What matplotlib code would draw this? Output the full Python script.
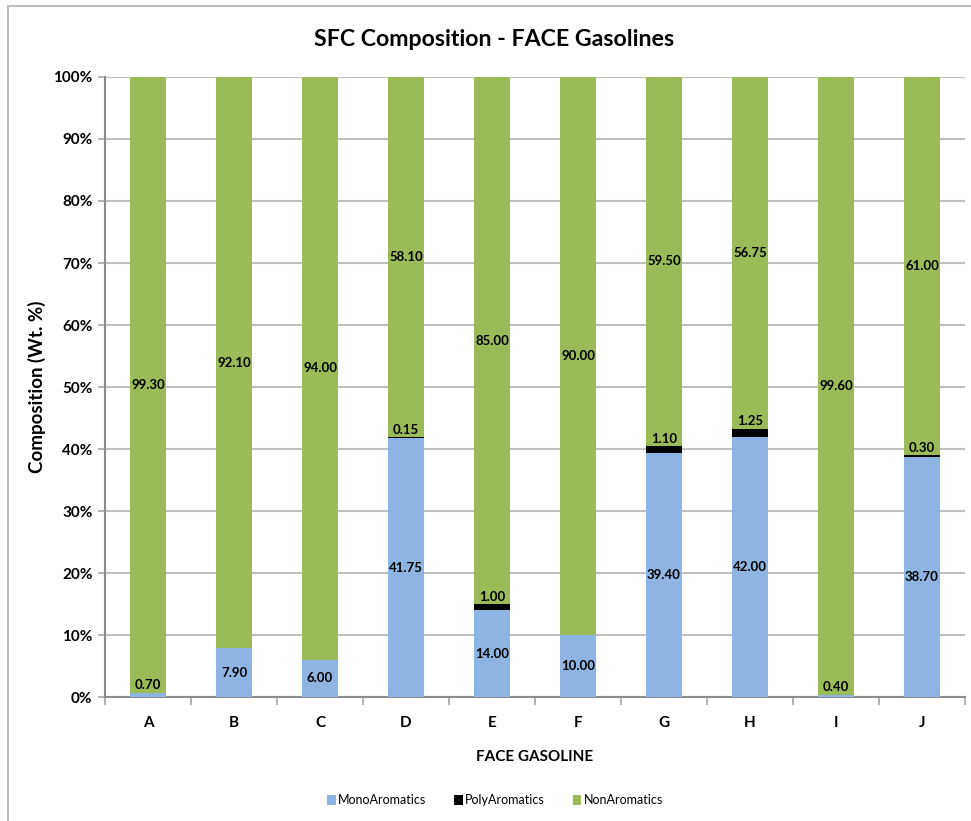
import numpy as np
import matplotlib.pyplot as plt
from matplotlib.patches import Rectangle, Patch
from matplotlib.ticker import FuncFormatter, FixedLocator

plt.rcParams['font.family'] = ['Lato', 'DejaVu Sans']

# SFC composition of the FACE gasolines (wt. %)
gasolines = ["A", "B", "C", "D", "E", "F", "G", "H", "I", "J"]
mono_arom = [0.70, 7.90, 6.00, 41.75, 14.00, 10.00, 39.40, 42.00, 0.40, 38.70]
poly_arom = [0.00, 0.00, 0.00, 0.15, 1.00, 0.00, 1.10, 1.25, 0.00, 0.30]
non_arom = [99.30, 92.10, 94.00, 58.10, 85.00, 90.00, 59.50, 56.75, 99.60, 61.00]

series = [
    ("MonoAromatics", mono_arom, "#8EB4E3"),
    ("PolyAromatics", poly_arom, "#000000"),
    ("NonAromatics", non_arom, "#9BBB59"),
]

fig = plt.figure(figsize=(9.71, 8.21), dpi=100)
ax = fig.add_axes([105 / 971, 1 - 697 / 821, 860 / 971, 620 / 821])

# chart border
fig.patches.append(Rectangle((8 / 971, -0.01), 1.0, 1 - 6 / 821 + 0.01,
                             transform=fig.transFigure, fill=False,
                             edgecolor="#BFBFBF", linewidth=1.5))

x = np.arange(len(gasolines))
bottom = np.zeros(len(gasolines))
for name, vals, color in series:
    vals = np.array(vals)
    ax.bar(x, vals, width=0.42, bottom=bottom, color=color, label=name,
           zorder=3)
    for xi, b, v in zip(x, bottom, vals):
        if v <= 0:
            continue
        if v < 2:
            # thin segments get their label just above them
            ax.annotate(f"{v:.2f}", (xi, b + v), xytext=(0, 1),
                        textcoords="offset points", ha="center", va="bottom",
                        fontsize=9.5, fontweight="bold", zorder=4)
        else:
            ax.text(xi, b + v / 2, f"{v:.2f}", ha="center", va="center",
                    fontsize=9.5, fontweight="bold", zorder=4)
    bottom += vals

ax.set_xlim(-0.5, len(gasolines) - 0.5)
ax.set_ylim(0, 100)
ax.set_yticks(np.arange(0, 101, 10))
ax.yaxis.set_major_formatter(FuncFormatter(lambda v, p: f"{v:.0f}%"))
ax.set_xticks(x)
ax.set_xticklabels(gasolines)
ax.xaxis.set_minor_locator(FixedLocator(np.arange(-0.5, len(gasolines), 1.0)))
ax.tick_params(axis="x", which="major", length=0, pad=14)
ax.tick_params(axis="x", which="minor", length=6, width=1.2, color="#A6A6A6")
ax.tick_params(axis="y", length=5, width=1.2, color="#A6A6A6", pad=4)
for lab in ax.get_xticklabels() + ax.get_yticklabels():
    lab.set_fontweight("bold")
    lab.set_fontsize(11)

ax.grid(axis="y", color="#BFBFBF", linewidth=1.5, zorder=0)
for side in ["top", "right"]:
    ax.spines[side].set_visible(False)
for side in ["left", "bottom"]:
    ax.spines[side].set_color("#8C8C8C")
    ax.spines[side].set_linewidth(1.5)

fig.text(494 / 971, 1 - 40 / 821, "SFC Composition - FACE Gasolines",
         fontsize=16.7, fontweight="bold", ha="center", va="center")
ax.set_ylabel("Composition (Wt. %)", fontsize=13.5, fontweight="bold",
              labelpad=5)
ax.set_xlabel("FACE GASOLINE", fontsize=11, fontweight="bold", labelpad=14)

handles = [Patch(facecolor=c, label=n) for n, _, c in series]
fig.legend(handles=handles, loc="center", bbox_to_anchor=(495 / 971, 1 - 800 / 821),
           ncol=3, frameon=False, fontsize=9, handlelength=0.7,
           handleheight=0.9, handletextpad=0.2, columnspacing=2.2)

fig.savefig("out.png", dpi=100)
